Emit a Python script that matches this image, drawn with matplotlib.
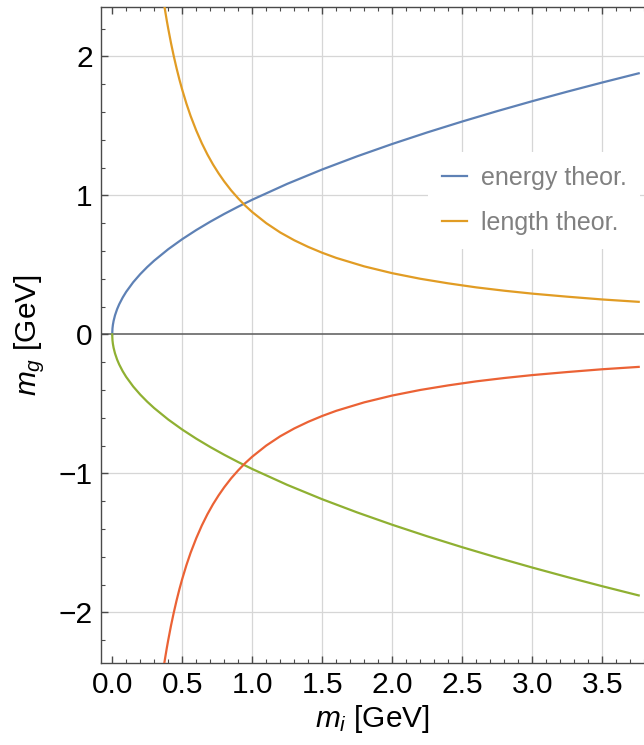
import matplotlib
matplotlib.use("Agg")
import matplotlib.pyplot as plt
from matplotlib.ticker import MultipleLocator

plt.rcParams['font.family'] = ['Liberation Sans', 'DejaVu Sans']
plt.rcParams['mathtext.fontset'] = 'custom'
plt.rcParams['mathtext.rm'] = 'Liberation Sans'
plt.rcParams['mathtext.it'] = 'Liberation Sans:italic'

# m_i values [GeV] for the square-root branch (energy theory)
mi_energy = [0.0, 0.002, 0.005, 0.01, 0.02, 0.035, 0.05, 0.075, 0.1, 0.15, 0.2,
             0.25, 0.3, 0.4, 0.5, 0.6, 0.7, 0.8, 0.9, 1.0, 1.25, 1.5, 1.75, 2.0,
             2.25, 2.5, 2.75, 3.0, 3.25, 3.5, 3.76]
mg_energy_pos = [0.0, 0.0433, 0.0685, 0.0969, 0.137, 0.1812, 0.2166, 0.2652,
                 0.3063, 0.3751, 0.4331, 0.4843, 0.5305, 0.6125, 0.6848, 0.7502,
                 0.8103, 0.8663, 0.9188, 0.9685, 1.0828, 1.1862, 1.2812, 1.3697,
                 1.4528, 1.5313, 1.6061, 1.6775, 1.746, 1.8119, 1.878]
mg_energy_neg = [0.0, -0.0433, -0.0685, -0.0969, -0.137, -0.1812, -0.2166, -0.2652,
                 -0.3063, -0.3751, -0.4331, -0.4843, -0.5305, -0.6125, -0.6848, -0.7502,
                 -0.8103, -0.8663, -0.9188, -0.9685, -1.0828, -1.1862, -1.2812, -1.3697,
                 -1.4528, -1.5313, -1.6061, -1.6775, -1.746, -1.8119, -1.878]

# m_i values [GeV] for the inverse branch (length theory)
mi_length = [0.36, 0.37, 0.38, 0.39, 0.4, 0.42, 0.44, 0.46, 0.48, 0.5, 0.53,
             0.56, 0.6, 0.64, 0.68, 0.72, 0.76, 0.8, 0.85, 0.9, 0.95, 1.0, 1.1,
             1.2, 1.3, 1.4, 1.5, 1.6, 1.8, 2.0, 2.2, 2.4, 2.6, 2.8, 3.0, 3.25,
             3.5, 3.76]
mg_length_pos = [2.444, 2.378, 2.316, 2.256, 2.2, 2.095, 2.0, 1.913, 1.833, 1.76,
                 1.660, 1.571, 1.467, 1.375, 1.294, 1.222, 1.158, 1.1, 1.035, 0.978,
                 0.926, 0.88, 0.8, 0.733, 0.677, 0.629, 0.587, 0.55, 0.489, 0.44,
                 0.4, 0.367, 0.338, 0.314, 0.293, 0.271, 0.251, 0.234]
mg_length_neg = [-2.444, -2.378, -2.316, -2.256, -2.2, -2.095, -2.0, -1.913, -1.833, -1.76,
                 -1.660, -1.571, -1.467, -1.375, -1.294, -1.222, -1.158, -1.1, -1.035, -0.978,
                 -0.926, -0.88, -0.8, -0.733, -0.677, -0.629, -0.587, -0.55, -0.489, -0.44,
                 -0.4, -0.367, -0.338, -0.314, -0.293, -0.271, -0.251, -0.234]

blue = '#5E81B5'
orange = '#E19C24'
green = '#8FB032'
red = '#EB6235'

fig = plt.figure(figsize=(6.44, 7.45), dpi=100)
ax = fig.add_axes([101 / 644, 1 - 662.7 / 745, 543.3 / 644, 655.7 / 745])

ax.set_xlim(-0.08, 3.80)
ax.set_ylim(-2.362, 2.355)

# grid and zero line
for gx in [0.5, 1.0, 1.5, 2.0, 2.5, 3.0, 3.5]:
    ax.axvline(gx, color='#d6d6d6', lw=0.9, zorder=0)
for gy in [-2, -1, 1, 2]:
    ax.axhline(gy, color='#d6d6d6', lw=0.9, zorder=0)
ax.axhline(0, color='#666666', lw=1.2, zorder=1)

lw = 1.6
l1, = ax.plot(mi_energy, mg_energy_pos, color=blue, lw=lw, zorder=3)
l2, = ax.plot(mi_length, mg_length_pos, color=orange, lw=lw, zorder=3)
ax.plot(mi_energy, mg_energy_neg, color=green, lw=lw, zorder=3)
ax.plot(mi_length, mg_length_neg, color=red, lw=lw, zorder=3)

# frame
ax.spines['right'].set_visible(False)
for s in ['left', 'bottom', 'top']:
    ax.spines[s].set_color('#4a4a4a')
    ax.spines[s].set_linewidth(1.0)

ax.xaxis.set_major_locator(MultipleLocator(0.5))
ax.xaxis.set_minor_locator(MultipleLocator(0.1))
ax.yaxis.set_major_locator(MultipleLocator(1))
ax.yaxis.set_minor_locator(MultipleLocator(0.2))
ax.xaxis.set_major_formatter(plt.FuncFormatter(lambda v, p: '%.1f' % v))
ax.yaxis.set_major_formatter(plt.FuncFormatter(
    lambda v, p: '%d' % round(v) if round(v) >= 0 else '\u2212%d' % abs(round(v))))

ax.tick_params(which='both', direction='in', top=True, right=False,
               color='#4a4a4a', labelsize=21.5)
ax.tick_params(which='major', length=5, width=1.0)
ax.tick_params(which='minor', length=3, width=0.8)
ax.tick_params(axis='x', pad=6)
ax.tick_params(axis='y', pad=6)

ax.set_xlabel('$m_i$ [GeV]', fontsize=21.5, labelpad=3)
ax.set_ylabel('$m_g$ [GeV]', fontsize=21.5, labelpad=8)

leg = ax.legend([l1, l2], ['energy theor.', 'length theor.'],
                loc='upper left', bbox_to_anchor=(0.602, 0.779),
                fontsize=18, labelcolor='#808080', frameon=True,
                facecolor='white', edgecolor='none', framealpha=1,
                fancybox=False, handlelength=1.0, handletextpad=0.55,
                labelspacing=0.85, borderpad=0.55, borderaxespad=0)
leg.set_zorder(5)

fig.savefig('out.png', dpi=100)
